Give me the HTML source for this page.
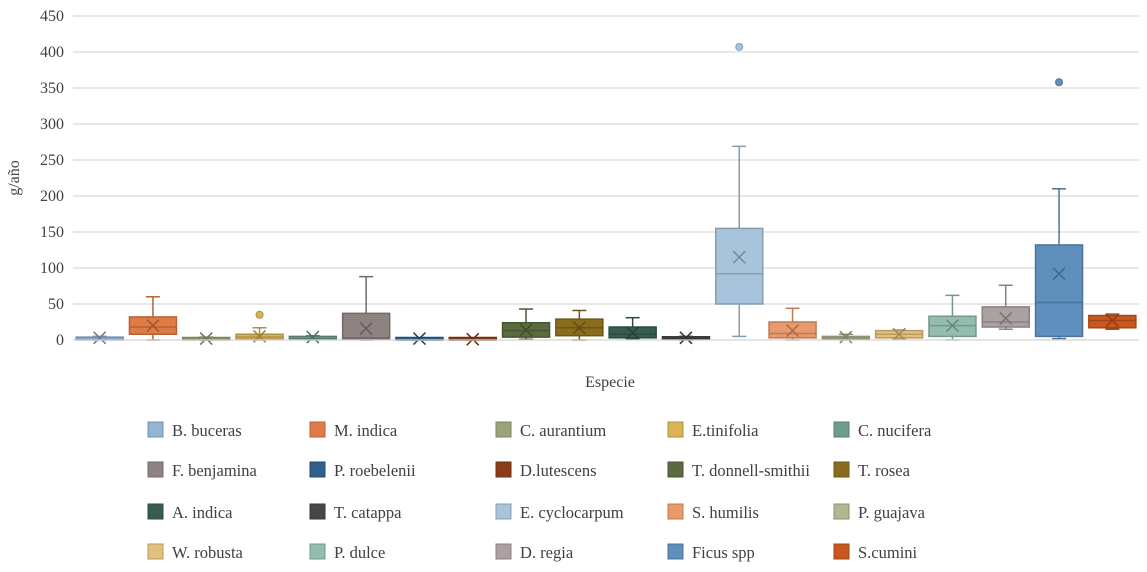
<!DOCTYPE html>
<html><head><meta charset="utf-8"><style>
body{margin:0;background:#fff;font-family:"Liberation Serif",serif;}
</style></head><body>
<svg id="c" width="1147" height="567" xmlns="http://www.w3.org/2000/svg" font-family="Liberation Serif, serif"></svg>
<script>
const categories=["B. buceras","M. indica","C. aurantium","E.tinifolia","C. nucifera","F. benjamina","P. roebelenii","D.lutescens","T. donnell-smithii","T. rosea","A. indica","T. catappa","E. cyclocarpum","S. humilis","P. guajava","W. robusta","P. dulce","D. regia","Ficus spp","S.cumini"];
const mins=[0,0,0,0,0,0,0,0,1,0,1,0,5,0,0,1,0,15,2,15];
const q1s=[0,8,0,1,1,1,0,0,4,6,3,1,50,3,1,3,5,18,5,17];
const medians=[1,18,1,4,2,3,0,0,13,17,8,2,92,9,3,8,20,25,52,27];
const q3s=[4,32,3,8,5,37,1,2,24,29,18,4,155,25,5,13,33,46,132,34];
const maxs=[5,60,4,17,6,88,2,2,43,41,31,5,269,44,8,14,62,76,210,36];
const means=[3,20,2,5,4,16,2,1,14,17,10,3,115,13,4,8,20,30,92,27];
const outliers=[[],[],[],[35],[],[],[],[],[],[],[],[],[407],[],[],[],[],[],[358],[]];
const yTicks=[0,50,100,150,200,250,300,350,400,450];
const colors=["#92b4d6","#e07b44","#9aa47a","#d9b356","#6f9d8c","#8e8381","#2f5f8a","#8b3c18","#5b6b3f","#8a6d1c","#365e50","#4b4444","#a8c4dc","#e99a6c","#b1b790","#e3c17c","#93bdb0","#aba1a0","#5f90bd","#c8581e"];
const NS="http://www.w3.org/2000/svg",svg=document.getElementById('c');
const L=73,R=1139,T=16,B=340,yMax=450;
const y=v=>B-(v/yMax)*(B-T);
const bw=(R-L)/categories.length;
const x=i=>L+bw*(i+0.5);
function mk(t,a,p){const e=document.createElementNS(NS,t);for(const k in a)e.setAttribute(k,a[k]);(p||svg).appendChild(e);return e;}
function dark(c,f){const n=parseInt(c.slice(1),16);const r=Math.round(((n>>16)&255)*f),g=Math.round(((n>>8)&255)*f),b=Math.round((n&255)*f);return `rgb(${r},${g},${b})`;}
yTicks.forEach(t=>{
  const g=mk('line',{x1:L,x2:R,y1:y(t),y2:y(t),stroke:'#d9d9d9','stroke-width':1.3});
  
  
  const tx=mk('text',{x:64,y:y(t)+5,'text-anchor':'end','font-size':16,fill:'#404040'});tx.textContent=t;
  
  
});
const yt=mk('text',{x:19,y:178,'font-size':16,fill:'#404040','text-anchor':'middle',transform:'rotate(-90 19 178)'});yt.textContent='g/año';


const xt=mk('text',{x:610,y:387,'font-size':16,fill:'#404040','text-anchor':'middle'});xt.textContent='Especie';


categories.forEach((c,i)=>{
  const g=mk('g',{});
  
  
  const cx=x(i),w=47,st=dark(colors[i],0.8);
  mk('line',{x1:cx,x2:cx,y1:y(maxs[i]),y2:y(q3s[i]),stroke:st,'stroke-width':1.5},g);
  mk('line',{x1:cx,x2:cx,y1:y(q1s[i]),y2:y(mins[i]),stroke:st,'stroke-width':1.5},g);
  mk('line',{x1:cx-7,x2:cx+7,y1:y(maxs[i]),y2:y(maxs[i]),stroke:st,'stroke-width':1.5},g);
  mk('line',{x1:cx-7,x2:cx+7,y1:y(mins[i]),y2:y(mins[i]),stroke:st,'stroke-width':1.5},g);
  const h=Math.max(y(q1s[i])-y(q3s[i]),2.5);
  mk('rect',{x:cx-w/2,y:y(q1s[i])-h,width:w,height:h,fill:colors[i],stroke:st,'stroke-width':1.5},g);
  mk('line',{x1:cx-w/2,x2:cx+w/2,y1:y(medians[i]),y2:y(medians[i]),stroke:st,'stroke-width':1.5},g);
  const my=y(means[i]);
  mk('path',{d:`M${cx-6} ${my-6}L${cx+6} ${my+6}M${cx+6} ${my-6}L${cx-6} ${my+6}`,stroke:dark(colors[i],0.7),'stroke-width':1.5,fill:'none'},g);
  outliers[i].forEach(o=>mk('circle',{cx:cx,cy:y(o),r:3.5,fill:colors[i],stroke:st},g));
});
mk('line',{x1:L,x2:R,y1:B,y2:B,stroke:'#d9d9d9','stroke-width':1.3});
const lx=[148,310,496,668,834],ly=[430,470,512,552];
categories.forEach((c,i)=>{
  const g=mk('g',{});
  
  
  const X=lx[i%5],Y=ly[Math.floor(i/5)];
  mk('rect',{x:X,y:Y-8,width:15,height:15,fill:colors[i],stroke:dark(colors[i],0.8)},g);
  const t=mk('text',{x:X+24,y:Y+6,'font-size':16.5,fill:'#404040'},g);t.textContent=c;
});
</script>
</body></html>
